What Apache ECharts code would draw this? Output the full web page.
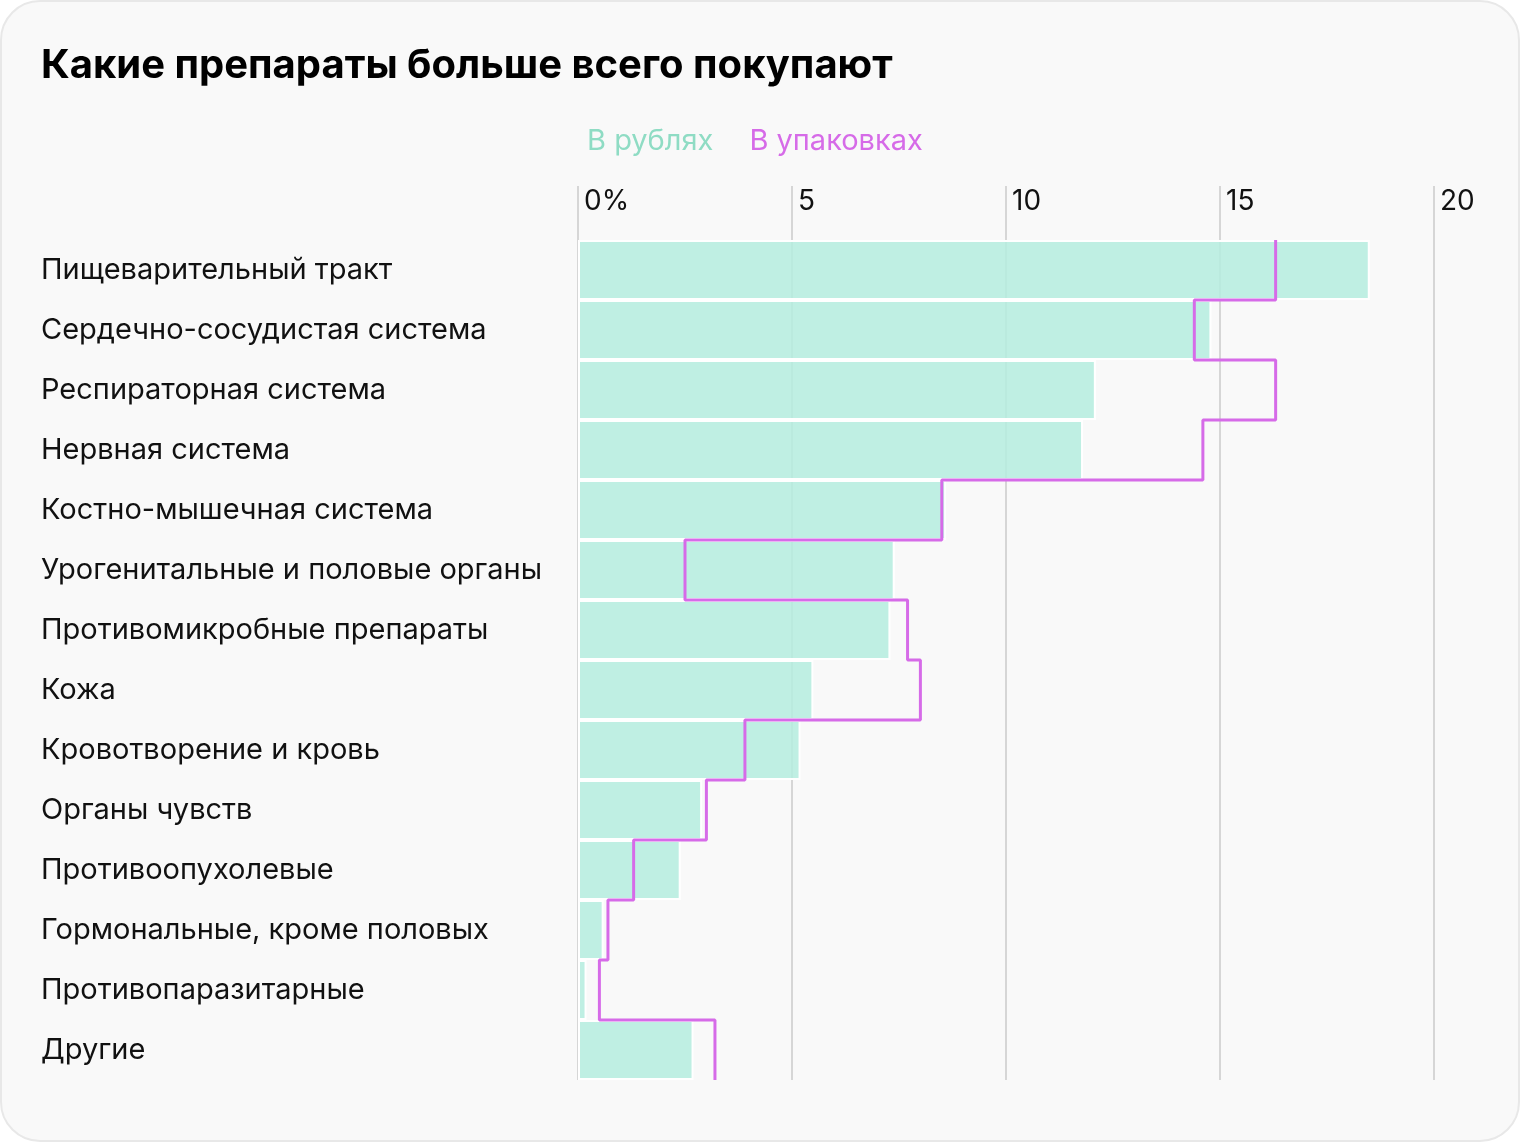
<!DOCTYPE html>
<html><head><meta charset="utf-8">
<script src="https://cdn.jsdelivr.net/npm/echarts@6/dist/echarts.min.js"></script>
<style>
html,body{margin:0;padding:0;background:#fff;}
#c{width:1520px;height:1142px;box-sizing:border-box;border:2px solid #e8e8e8;border-radius:40px;background:#f9f9f9;overflow:hidden;}
</style></head>
<body><div id="c"></div>
<script>
const categories = ['Пищеварительный тракт','Сердечно-сосудистая система','Респираторная система','Нервная система','Костно-мышечная система','Урогенитальные и половые органы','Противомикробные препараты','Кожа','Кровотворение и кровь','Органы чувств','Противоопухолевые','Гормональные, кроме половых','Противопаразитарные','Другие'];
const rubles = [18.5, 14.8, 12.1, 11.8, 8.6, 7.4, 7.3, 5.5, 5.2, 2.9, 2.4, 0.6, 0.2, 2.7];
const packs = [16.3, 14.4, 16.3, 14.6, 8.5, 2.5, 7.7, 8.0, 3.9, 3.0, 1.3, 0.7, 0.5, 3.2];
const xTicks = [0, 5, 10, 15, 20];

const stepData = [];
packs.forEach((v, i) => { stepData.push([v, i]); stepData.push([v, i + 1]); });

const chart = echarts.init(document.getElementById('c'));
const FONT = 'Inter, "Noto Sans", sans-serif';
chart.setOption({
  backgroundColor: 'transparent',
  animation: false,
  title: {
    text: 'Какие препараты больше всего покупают',
    left: 34, top: 39,
    textStyle: {fontFamily: FONT, fontSize: 40, fontWeight: 'bold', color: '#000'}
  },
  legend: {
    left: 579, top: 120, itemWidth: 0, itemHeight: 0, itemGap: 36, icon: 'rect',
    textStyle: {fontFamily: FONT, fontSize: 29, padding: [0,0,0,-5]},
    data: [
      {name: 'В рублях', textStyle: {color: '#8fdcc4'}},
      {name: 'В упаковках', textStyle: {color: '#d66be8'}}
    ]
  },
  grid: {left: 576, right: 84, top: 238, bottom: 60, containLabel: false},
  xAxis: {
    type: 'value', position: 'top', min: 0, max: 20, interval: 5,
    axisLine: {show: false},
    axisTick: {show: true, length: 54, lineStyle: {color: '#d6d6d6', width: 2}},
    splitLine: {show: true, lineStyle: {color: '#d6d6d6', width: 2}},
    axisLabel: {
      fontFamily: FONT, fontSize: 28, color: '#111', align: 'left', verticalAlign: 'middle',
      margin: 38, padding: [0,0,0,6],
      formatter: v => v === 0 ? '0%' : String(v)
    }
  },
  yAxis: [{
    type: 'category', data: categories, inverse: true,
    axisLine: {show: false}, axisTick: {show: false},
    axisLabel: {fontFamily: FONT, fontSize: 29, color: '#111', align: 'left', margin: 537}
  }, {
    type: 'value', min: 0, max: 14, inverse: true, show: false
  }],
  series: [{
    name: 'В рублях', type: 'bar', data: rubles, yAxisIndex: 0,
    barCategoryGap: '0%',
    itemStyle: {color: 'rgba(182,238,224,0.86)', borderColor: '#ffffff', borderWidth: 2}
  }, {
    name: 'В упаковках', type: 'line', data: stepData, yAxisIndex: 1,
    symbol: 'none', z: 5,
    lineStyle: {color: '#d66be8', width: 3}, itemStyle: {color: '#d66be8'}
  }]
});
</script></body></html>
